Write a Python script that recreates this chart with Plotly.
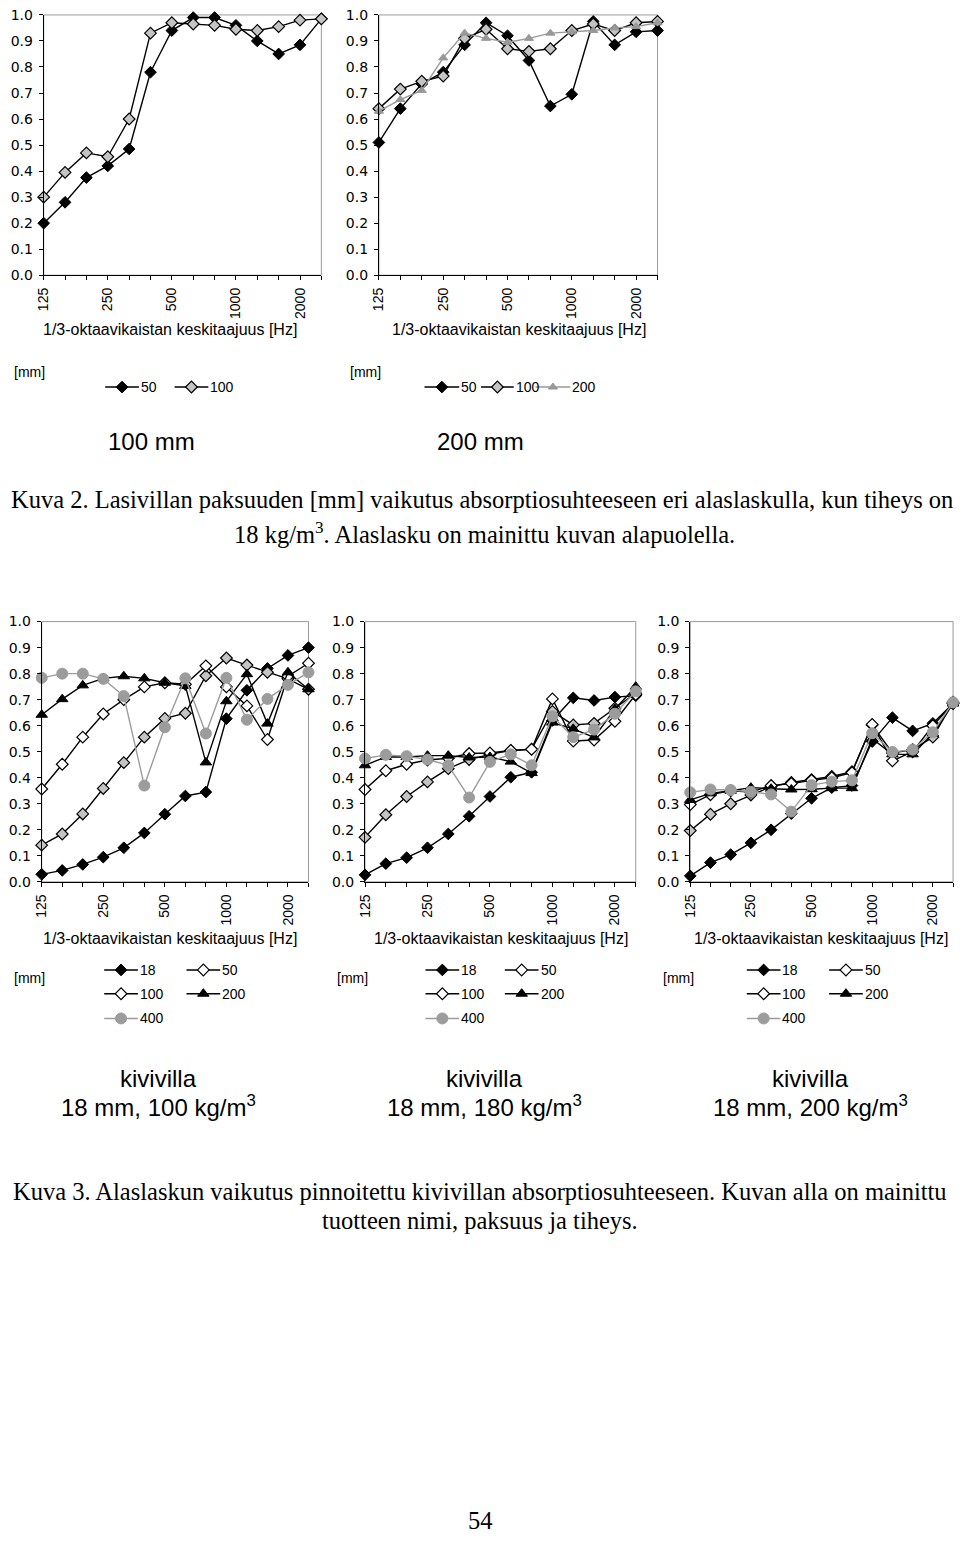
import plotly.graph_objects as go

W, H = 960, 1548

freqs = ["125", "160", "200", "250", "315", "400", "500", "630", "800",
         "1000", "1250", "1600", "2000", "2500"]
shown_ticks = ["125", "250", "500", "1000", "2000"]

# Kuva 2 - top left (100 mm)
tl_50 = [0.20, 0.28, 0.375, 0.42, 0.485, 0.78, 0.94, 0.99, 0.99, 0.96, 0.90, 0.85, 0.885, 0.985]
tl_100 = [0.30, 0.395, 0.47, 0.455, 0.60, 0.93, 0.97, 0.965, 0.96, 0.945, 0.94, 0.955, 0.98, 0.985]

# Kuva 2 - top right (200 mm)
tr_50 = [0.51, 0.64, 0.735, 0.78, 0.885, 0.97, 0.92, 0.825, 0.65, 0.695, 0.975, 0.885, 0.935, 0.94]
tr_100 = [0.64, 0.715, 0.745, 0.765, 0.91, 0.945, 0.87, 0.86, 0.87, 0.94, 0.965, 0.94, 0.97, 0.975]
tr_200 = [0.63, 0.675, 0.71, 0.835, 0.93, 0.91, 0.895, 0.91, 0.93, 0.935, 0.94, 0.95, 0.955, 0.97]

# Kuva 3 - 100 kg/m3
bl_18 = [0.029, 0.044, 0.067, 0.095, 0.131, 0.188, 0.26, 0.33, 0.345, 0.627, 0.736, 0.82, 0.87, 0.90]
bl_50 = [0.141, 0.184, 0.261, 0.359, 0.458, 0.556, 0.628, 0.648, 0.792, 0.86, 0.833, 0.805, 0.78, 0.74]
bl_100 = [0.357, 0.452, 0.556, 0.645, 0.70, 0.749, 0.765, 0.759, 0.83, 0.749, 0.676, 0.547, 0.79, 0.84]
bl_200 = [0.642, 0.702, 0.755, 0.782, 0.79, 0.782, 0.765, 0.753, 0.459, 0.694, 0.798, 0.608, 0.805, 0.74]
bl_400 = [0.784, 0.80, 0.80, 0.78, 0.714, 0.37, 0.594, 0.782, 0.57, 0.784, 0.623, 0.703, 0.757, 0.805]

# Kuva 3 - 180 kg/m3
bm_18 = [0.027, 0.07, 0.093, 0.131, 0.184, 0.252, 0.328, 0.402, 0.421, 0.62, 0.707, 0.697, 0.71, 0.715]
bm_50 = [0.171, 0.258, 0.328, 0.384, 0.435, 0.47, 0.49, 0.505, 0.51, 0.655, 0.603, 0.609, 0.667, 0.725]
bm_100 = [0.355, 0.427, 0.452, 0.468, 0.475, 0.493, 0.495, 0.505, 0.509, 0.703, 0.541, 0.545, 0.617, 0.72]
bm_200 = [0.448, 0.48, 0.48, 0.485, 0.485, 0.478, 0.48, 0.462, 0.418, 0.612, 0.588, 0.555, 0.664, 0.75]
bm_400 = [0.474, 0.488, 0.483, 0.47, 0.448, 0.324, 0.461, 0.49, 0.448, 0.636, 0.556, 0.585, 0.646, 0.732]

# Kuva 3 - 200 kg/m3
br_18 = [0.023, 0.074, 0.105, 0.15, 0.20, 0.262, 0.321, 0.362, 0.37, 0.539, 0.631, 0.58, 0.609, 0.685]
br_50 = [0.197, 0.26, 0.30, 0.334, 0.366, 0.382, 0.393, 0.405, 0.423, 0.603, 0.495, 0.508, 0.556, 0.69]
br_100 = [0.297, 0.335, 0.35, 0.345, 0.37, 0.378, 0.39, 0.40, 0.42, 0.605, 0.465, 0.50, 0.60, 0.685]
br_200 = [0.315, 0.34, 0.35, 0.362, 0.358, 0.355, 0.356, 0.36, 0.36, 0.55, 0.49, 0.49, 0.57, 0.685]
br_400 = [0.344, 0.355, 0.353, 0.346, 0.336, 0.27, 0.372, 0.385, 0.39, 0.571, 0.499, 0.508, 0.575, 0.69]

top_labels = ["50", "100", "200"]
bottom_labels = ["18", "50", "100", "200", "400"]
axis_title = "1/3-oktaavikaistan keskitaajuus [Hz]"

SANS = "Liberation Sans, Arial, sans-serif"
TICKF = "DejaVu Sans, Arial, sans-serif"
SERIF = "Liberation Serif, Times New Roman, serif"

STYLES = {
    "black_d": dict(symbol="diamond", color="black", line=dict(color="black", width=1), size=9, lc="black"),
    "grey_d": dict(symbol="diamond", color="#c4c4c4", line=dict(color="black", width=1.2), size=9, lc="black"),
    "white_d": dict(symbol="diamond", color="white", line=dict(color="black", width=1.2), size=9, lc="black"),
    "black_t": dict(symbol="triangle-up", color="black", line=dict(color="black", width=1), size=10, lc="black"),
    "grey_t": dict(symbol="triangle-up", color="#999999", line=dict(color="#999999", width=1), size=8, lc="#999999"),
    "grey_c": dict(symbol="circle", color="#9c9c9c", line=dict(color="#9c9c9c", width=1), size=11, lc="#9c9c9c"),
}


def fx(x):
    return x / W


def fy(y):
    return 1 - y / H


# plot areas in page pixels: (x0, x1, y0, y1)
panels = [
    dict(box=(36, 316, 7, 270), series=[(tl_50, "black_d"), (tl_100, "grey_d")]),
    dict(box=(374, 655, 7, 270), series=[(tr_50, "black_d"), (tr_100, "grey_d"), (tr_200, "grey_t")]),
    dict(box=(34, 303, 620, 883), series=[(bl_18, "black_d"), (bl_50, "grey_d"), (bl_100, "white_d"),
                                        (bl_200, "black_t"), (bl_400, "grey_c")]),
    dict(box=(360, 633, 620, 883), series=[(bm_18, "black_d"), (bm_50, "grey_d"), (bm_100, "white_d"),
                                         (bm_200, "black_t"), (bm_400, "grey_c")]),
    dict(box=(688, 953, 620, 883), series=[(br_18, "black_d"), (br_50, "grey_d"), (br_100, "white_d"),
                                         (br_200, "black_t"), (br_400, "grey_c")]),
]

fig = go.Figure()
layout = {}
shapes = []
annotations = []

xi = list(range(len(freqs)))
ticktext = [f if f in shown_ticks else "" for f in freqs]

for i, p in enumerate(panels, start=1):
    x0, x1, y0, y1 = p["box"]
    xa = "xaxis" if i == 1 else f"xaxis{i}"
    ya = "yaxis" if i == 1 else f"yaxis{i}"
    xr = "x" if i == 1 else f"x{i}"
    yr = "y" if i == 1 else f"y{i}"
    layout[xa] = dict(domain=[fx(x0), fx(x1)], anchor=yr, range=[0, len(freqs) - 1],
                      tickmode="array", tickvals=xi, ticktext=ticktext, tickangle=-90,
                      ticks="outside", ticklen=4, tickcolor="black", showline=True,
                      linecolor="black", linewidth=1, showgrid=False, zeroline=False,
                      ticklabelstandoff=2,
                      tickfont=dict(family=SANS, size=14, color="black"))
    layout[ya] = dict(domain=[fy(y1), fy(y0)], anchor=xr, range=[0, 1],
                      tickmode="linear", tick0=0, dtick=0.1, tickformat=".1f",
                      ticks="outside", ticklen=4, tickcolor="black", showline=True,
                      linecolor="black", linewidth=1, showgrid=False, zeroline=False,
                      ticklabelstandoff=3,
                      tickfont=dict(family=TICKF, size=14, color="black"))
    shapes.append(dict(type="rect", xref=f"{xr} domain", yref=f"{yr} domain",
                       x0=0, x1=1, y0=0, y1=1, line=dict(color="#9a9a9a", width=1),
                       layer="below"))
    for vals, st in p["series"]:
        s = STYLES[st]
        fig.add_trace(go.Scatter(
            x=xi, y=vals, xaxis=xr, yaxis=yr, mode="lines+markers",
            line=dict(color=s["lc"], width=1.4),
            marker=dict(symbol=s["symbol"], color=s["color"], size=s["size"], line=s["line"]),
            cliponaxis=False, showlegend=False, hoverinfo="skip"))

# overlay axis in page pixels for the legend keys
layout["xaxis6"] = dict(domain=[0, 1], range=[0, W], visible=False, anchor="y6", fixedrange=True)
layout["yaxis6"] = dict(domain=[0, 1], range=[H, 0], visible=False, anchor="x6", fixedrange=True)


def text(x, y, t, size=14, family=SANS, xanchor="center"):
    annotations.append(dict(x=fx(x), y=fy(y), xref="paper", yref="paper", text=t,
                            showarrow=False, xanchor=xanchor, yanchor="middle",
                            borderpad=0, borderwidth=0,
                            font=dict(family=family, size=size, color="black")))


def legend_item(x0, x1, y, st, label):
    s = STYLES[st]
    fig.add_trace(go.Scatter(x=[x0, x1], y=[y, y], xaxis="x6", yaxis="y6", mode="lines",
                             line=dict(color=s["lc"], width=1.4), showlegend=False,
                             hoverinfo="skip"))
    fig.add_trace(go.Scatter(x=[(x0 + x1) / 2], y=[y], xaxis="x6", yaxis="y6", mode="markers",
                             marker=dict(symbol=s["symbol"], color=s["color"], size=s["size"],
                                         line=s["line"]),
                             showlegend=False, hoverinfo="skip"))
    text(x1 + 2, y, label, xanchor="left")


# Kuva 2 axis titles, legends, panel titles
text(163, 325, axis_title, size=16)
text(515, 325, axis_title, size=16)
text(22, 368, "[mm]")
text(360, 368, "[mm]")
legend_item(98, 132, 383, "black_d", top_labels[0])
legend_item(168, 202, 383, "grey_d", top_labels[1])
legend_item(420, 455, 383, "black_d", top_labels[0])
legend_item(477, 510, 383, "grey_d", top_labels[1])
legend_item(532, 567, 383, "grey_t", top_labels[2])
text(145, 438, "100 mm", size=24)
text(476, 438, "200 mm", size=24)

text(478, 497, "Kuva 2. Lasivillan paksuuden [mm] vaikutus absorptiosuhteeseen eri alaslaskulla, kun tiheys on",
     size=24.5, family=SERIF)
text(480, 530, "18 kg/m<sup>3</sup>. Alaslasku on mainittu kuvan alapuolella.", size=24.5, family=SERIF)

# Kuva 3 axis titles, legends, panel titles
bottom_info = [
    dict(cx=163, mmx=22, c1=(97, 131), c2=(180, 214), tcx=152, sub="18 mm, 100 kg/m<sup>3</sup>"),
    dict(cx=497, mmx=347, c1=(421, 455), c2=(501, 535), tcx=481, sub="18 mm, 180 kg/m<sup>3</sup>"),
    dict(cx=820, mmx=676, c1=(745, 779), c2=(828, 862), tcx=809, sub="18 mm, 200 kg/m<sup>3</sup>"),
]
for b in bottom_info:
    text(b["cx"], 940, axis_title, size=16)
    text(b["mmx"], 980, "[mm]")
    legend_item(b["c1"][0], b["c1"][1], 972, "black_d", bottom_labels[0])
    legend_item(b["c2"][0], b["c2"][1], 972, "white_d", bottom_labels[1])
    legend_item(b["c1"][0], b["c1"][1], 996, "white_d", bottom_labels[2])
    legend_item(b["c2"][0], b["c2"][1], 996, "black_t", bottom_labels[3])
    legend_item(b["c1"][0], b["c1"][1], 1021, "grey_c", bottom_labels[4])
    text(b["tcx"], 1082, "kivivilla", size=24)
    text(b["tcx"], 1109, b["sub"], size=24)

text(476, 1196, "Kuva 3. Alaslaskun vaikutus pinnoitettu kivivillan absorptiosuhteeseen. Kuvan alla on mainittu",
     size=24.5, family=SERIF)
text(476, 1225, "tuotteen nimi, paksuus ja tiheys.", size=24.5, family=SERIF)
text(476, 1528, "54", size=24.5, family=SERIF)

fig.update_layout(width=W, height=H, margin=dict(l=0, r=0, t=0, b=0), autosize=False,
                  paper_bgcolor="white", plot_bgcolor="rgba(0,0,0,0)",
                  shapes=shapes, annotations=annotations, showlegend=False, **layout)

post = "document.documentElement.style.margin='0'; document.body.style.margin='0';"
fig.write_html("out.html", config={"displayModeBar": False}, post_script=post)
